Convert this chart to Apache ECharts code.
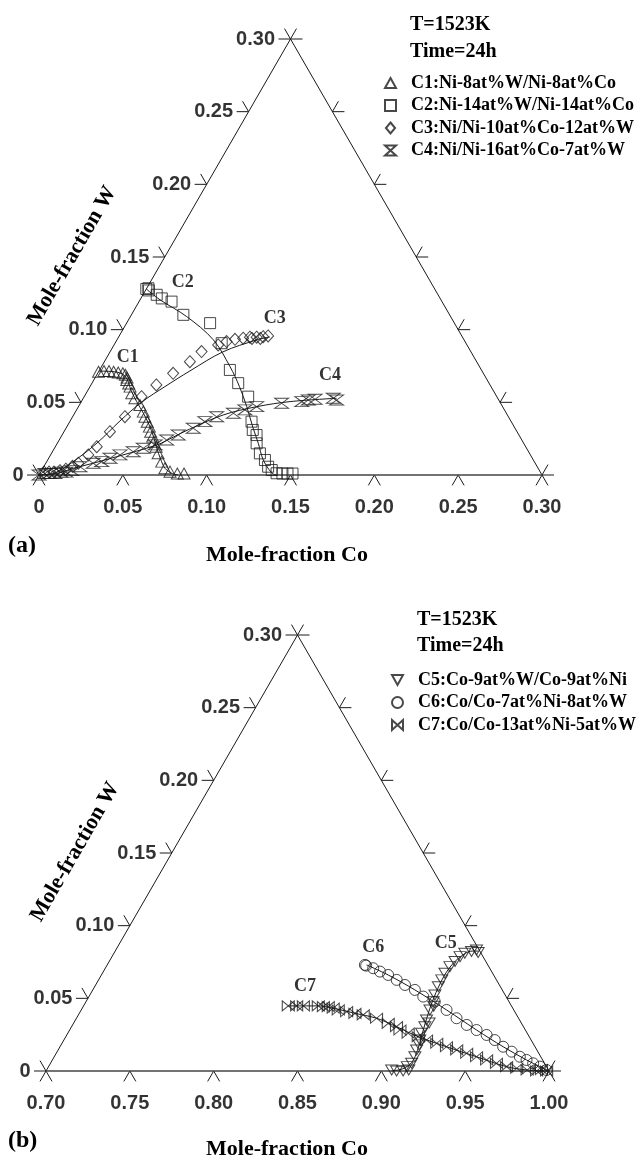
<!DOCTYPE html>
<html><head><meta charset="utf-8">
<script src="https://cdn.jsdelivr.net/npm/echarts@6/dist/echarts.min.js"></script>
<style>html,body{margin:0;padding:0;background:#fff}#c{width:641px;height:1157px}</style>
</head><body><div id="c"></div>
<script>
// ---- tick values / labels ----
const wTicks = [0, 0.05, 0.10, 0.15, 0.20, 0.25, 0.30];
const wTickLabels = ['0', '0.05', '0.10', '0.15', '0.20', '0.25', '0.30'];
const coTicksA = [0, 0.05, 0.10, 0.15, 0.20, 0.25, 0.30];
const coTickLabelsA = ['0', '0.05', '0.10', '0.15', '0.20', '0.25', '0.30'];
const coTicksB = [0.70, 0.75, 0.80, 0.85, 0.90, 0.95, 1.00];
const coTickLabelsB = ['0.70', '0.75', '0.80', '0.85', '0.90', '0.95', '1.00'];

// ---- series names ----
const namesA = ['C1:Ni-8at%W/Ni-8at%Co', 'C2:Ni-14at%W/Ni-14at%Co', 'C3:Ni/Ni-10at%Co-12at%W', 'C4:Ni/Ni-16at%Co-7at%W'];
const namesB = ['C5:Co-9at%W/Co-9at%Ni', 'C6:Co/Co-7at%Ni-8at%W', 'C7:Co/Co-13at%Ni-5at%W'];

// ---- measured compositions [Co, W] ----
const c1 = [[0.000,0.071],[0.003,0.0715],[0.006,0.0715],[0.009,0.071],[0.012,0.0705],[0.015,0.070],[0.017,0.069],[0.019,0.067],
  [0.0196,0.0654],[0.022,0.063],[0.0239,0.0608],[0.0272,0.0563],[0.0308,0.0528],[0.0361,0.0482],[0.0404,0.0436],[0.0431,0.0401],
  [0.0462,0.0367],[0.0492,0.0333],[0.0517,0.0298],[0.0546,0.0264],[0.0571,0.0229],[0.0601,0.0195],[0.0636,0.0149],[0.0686,0.0092],
  [0.0728,0.0046],[0.077,0.0023],[0.082,0.001],[0.086,0.001]];
const c2 = [[0.000,0.128],[0.001,0.1285],[0.002,0.127],[0.0082,0.124],[0.0125,0.1215],[0.0194,0.1193],[0.031,0.1102],[0.0498,0.1045],
  [0.0636,0.0907],[0.0777,0.0723],[0.0872,0.0632],[0.0978,0.0539],[0.1084,0.0367],[0.112,0.031],[0.116,0.0275],[0.1189,0.0218],
  [0.1243,0.0149],[0.1296,0.0103],[0.1338,0.0057],[0.1371,0.0034],[0.1411,0.0012],[0.1447,0.001],[0.1477,0.001],[0.1507,0.001]];
const c3 = [[0.002,0.002],[0.005,0.002],[0.008,0.002],[0.011,0.003],[0.014,0.004],[0.017,0.006],[0.0194,0.0081],[0.0225,0.0138],
  [0.0247,0.0195],[0.0274,0.0298],[0.0312,0.0401],[0.0342,0.0539],[0.039,0.062],[0.045,0.070],[0.051,0.078],[0.0545,0.0849],
  [0.0621,0.0895],[0.066,0.0918],[0.0702,0.0934],[0.0747,0.0941],[0.0784,0.0948],[0.080,0.094],[0.0824,0.0948],[0.085,0.094],
  [0.0861,0.0952],[0.0888,0.0957]];
const c4 = [[0.000,0.000],[0.003,0.001],[0.006,0.001],[0.009,0.001],[0.012,0.002],[0.015,0.002],[0.018,0.003],[0.0216,0.0057],
  [0.0283,0.0081],[0.0328,0.0092],[0.0366,0.0115],[0.0414,0.0138],[0.0482,0.016],[0.053,0.0184],[0.0589,0.0207],[0.0641,0.0241],
  [0.0693,0.0275],[0.0759,0.0322],[0.0806,0.0367],[0.0859,0.0401],[0.0947,0.0425],[0.1004,0.0448],[0.1063,0.047],[0.120,0.0494],
  [0.1315,0.0505],[0.1348,0.0516],[0.1386,0.0521],[0.1491,0.0528],[0.1517,0.0516]];
const c5 = [[0.9058,0.0007],[0.9091,0.000],[0.913,0.000],[0.916,0.0007],[0.914,0.003],[0.9154,0.0053],[0.9151,0.0098],[0.9138,0.0145],
  [0.9135,0.018],[0.9123,0.0213],[0.911,0.026],[0.9107,0.0305],[0.912,0.033],[0.9094,0.0351],[0.908,0.042],[0.909,0.0445],
  [0.9071,0.0477],[0.9058,0.0523],[0.905,0.058],[0.9047,0.0627],[0.9043,0.0673],[0.905,0.0718],[0.9063,0.0753],[0.9076,0.0787],
  [0.9093,0.081],[0.9127,0.0822],[0.9151,0.0833],[0.917,0.0815]];
const c6 = [[0.8537,0.073],[0.8547,0.0725],[0.8598,0.0707],[0.865,0.0684],[0.871,0.0661],[0.8778,0.0627],[0.8845,0.0592],[0.8921,0.0558],
  [0.8994,0.0512],[0.908,0.0477],[0.9179,0.042],[0.9267,0.0363],[0.9351,0.0317],[0.9427,0.0282],[0.9504,0.0248],[0.957,0.0213],
  [0.9643,0.0167],[0.9711,0.0133],[0.9777,0.0098],[0.9828,0.0076],[0.9879,0.0053],[0.9931,0.003],[0.9982,0.0007]];
const c7 = [[0.8221,0.0448],[0.8271,0.0448],[0.8311,0.0448],[0.840,0.0448],[0.8433,0.0443],[0.8462,0.0443],[0.8497,0.0432],[0.8533,0.042],
  [0.8589,0.0408],[0.8644,0.0397],[0.8699,0.0386],[0.879,0.0363],[0.8877,0.0328],[0.8938,0.0305],[0.897,0.0282],[0.903,0.026],
  [0.9102,0.0236],[0.9163,0.0213],[0.9235,0.0191],[0.9305,0.0167],[0.9377,0.0145],[0.9448,0.0122],[0.9519,0.0098],[0.959,0.0076],
  [0.966,0.0053],[0.9732,0.003],[0.9798,0.0019],[0.9866,0.0007],[0.9926,0.000],[0.995,0.001],[0.9986,0.000]];

// ---- fitted curves [Co, W] ----
const f1 = [[0,0.0715],[0.008,0.0712],[0.015,0.0695],[0.02,0.0655],[0.026,0.058],[0.033,0.0505],[0.041,0.0425],[0.048,0.035],
  [0.055,0.0265],[0.061,0.0185],[0.067,0.011],[0.073,0.0045],[0.079,0.001],[0.083,0]];
const f2 = [[0,0.128],[0.012,0.1205],[0.0336,0.109],[0.0575,0.093],[0.0766,0.0746],[0.089,0.061],[0.1004,0.047],[0.111,0.033],
  [0.1199,0.0218],[0.128,0.011],[0.135,0.004],[0.1397,0.0005],[0.142,0]];
const f3 = [[0,0],[0.0088,0.0014],[0.0147,0.0076],[0.0236,0.022],[0.0297,0.0372],[0.0363,0.0503],[0.0451,0.0613],[0.0542,0.0716],
  [0.0673,0.0847],[0.0835,0.093],[0.0902,0.095]];
const f4 = [[0,0],[0.01,0.001],[0.0182,0.0046],[0.028,0.008],[0.04,0.0126],[0.06,0.0207],[0.067,0.026],[0.0739,0.0315],
  [0.0892,0.0413],[0.1063,0.047],[0.1245,0.0505],[0.1511,0.0528]];
const f5 = [[0.906,0],[0.912,0.0015],[0.9152,0.006],[0.9145,0.014],[0.912,0.024],[0.909,0.036],[0.9065,0.048],[0.905,0.06],
  [0.905,0.07],[0.9075,0.078],[0.913,0.0825],[0.9165,0.0825]];
const f6 = [[0.8547,0.073],[0.871,0.0661],[0.8921,0.0558],[0.9179,0.042],[0.9427,0.0282],[0.9643,0.0167],[0.9828,0.0076],[0.9931,0.003],[1.0,0]];
const f7 = [[0.8221,0.0448],[0.84,0.0448],[0.8497,0.0432],[0.8644,0.0397],[0.879,0.0363],[0.8938,0.0305],[0.9102,0.0236],
  [0.9305,0.0167],[0.9519,0.0098],[0.9732,0.003],[0.9866,0.0007],[1.0,0]];

// ---- curve labels [Co, W, text] ----
const annA = [[0.0124,0.081,'C1'],[0.0195,0.1324,'C2'],[0.0867,0.1079,'C3'],[0.1391,0.0689,'C4']];
const annB = [[0.8946,0.0875,'C5'],[0.8527,0.0849,'C6'],[0.8254,0.0581,'C7']];

// ---------------------------------------------------------------
const S3 = Math.sqrt(3) / 2;
const xy = p => [p[0] + p[1] / 2, p[1] * S3];
const TL = 12 / 1677;   // tick length in data units
const SPAN = 0.30;
const INK = '#1a1a1a';
const serif = 'Liberation Serif';
const sans = 'Liberation Sans';

const symbols = {
  tri: 'path://M5,0L10,9L0,9Z',
  sq: 'path://M0,0L10,0L10,10L0,10Z',
  dia: 'path://M5,0L10,6L5,12L0,6Z',
  circ: 'path://M0,5A5,5,0,1,1,10,5A5,5,0,1,1,0,5Z',
  hour: 'path://M0,0L10,0L0,9L10,9Z',
  down: 'path://M0,0L10,0L5,9Z',
  bow: 'path://M0,0L10,9L10,0L0,9Z'
};

function frameSeries(gi, co0, coTicks, coLabels) {
  const L = xy([co0, 0]), R = xy([co0 + SPAN, 0]), T = xy([co0, SPAN]);
  const segs = [];
  segs.push([L, T]); segs.push([T, R]);
  wTicks.forEach(w => {
    const P = xy([co0, w]);
    segs.push([P, [P[0] - TL, P[1]]]);
    segs.push([P, [P[0] - TL / 2, P[1] + TL * S3]]);
    const Q = xy([co0 + SPAN - w, w]);
    segs.push([Q, [Q[0] + TL, Q[1]]]);
    segs.push([Q, [Q[0] + TL / 2, Q[1] + TL * S3]]);
  });
  coTicks.forEach(c => {
    const B = xy([c, 0]);
    segs.push([B, [B[0] - TL / 2, B[1] - TL * S3]]);
    segs.push([B, [B[0] + TL / 2, B[1] - TL * S3]]);
  });
  return [
    { type: 'lines', coordinateSystem: 'cartesian2d', xAxisIndex: gi, yAxisIndex: gi, polyline: true, clip: false, silent: true,
      data: segs.map(s => ({ coords: s })), lineStyle: { color: INK, width: 1, opacity: 1 }, z: 1 },
    { type: 'lines', coordinateSystem: 'cartesian2d', xAxisIndex: gi, yAxisIndex: gi, polyline: true, clip: false, silent: true,
      data: [{ coords: [L, R] }], lineStyle: { color: '#444', width: 1.6, opacity: 1 }, z: 1 },
    { type: 'scatter', xAxisIndex: gi, yAxisIndex: gi, clip: false, silent: true, symbolSize: 1,
      itemStyle: { color: 'rgba(0,0,0,0)' },
      data: wTicks.map((w, i) => { const P = xy([co0, w]); return { value: [P[0] - TL, P[1]], name: wTickLabels[i] }; }),
      label: { show: true, position: 'left', distance: 3, formatter: '{b}', fontFamily: sans, fontWeight: 'bold', fontSize: 20, color: '#000' } },
    { type: 'scatter', xAxisIndex: gi, yAxisIndex: gi, clip: false, silent: true, symbolSize: 1,
      itemStyle: { color: 'rgba(0,0,0,0)' },
      data: coTicks.map((c, i) => ({ value: xy([c, 0]), name: coLabels[i] })),
      label: { show: true, position: 'inside', offset: [0, 32], formatter: '{b}', fontFamily: sans, fontWeight: 'bold', fontSize: 20, color: '#000' } }
  ];
}

function dataSeries(gi, name, pts, fit, sym, size) {
  return [
    { type: 'line', name: 'fit-' + name, xAxisIndex: gi, yAxisIndex: gi, data: fit.map(xy), smooth: 0.35, showSymbol: false,
      symbol: 'none', clip: false, silent: true, lineStyle: { color: INK, width: 1 }, z: 2 },
    { type: 'scatter', name: name, xAxisIndex: gi, yAxisIndex: gi, data: pts.map(xy), symbol: sym, symbolSize: size, clip: false,
      itemStyle: { color: 'rgba(255,255,255,0)', borderColor: INK, borderWidth: 1 }, z: 3 }
  ];
}

function annSeries(gi, ann) {
  return { type: 'scatter', xAxisIndex: gi, yAxisIndex: gi, clip: false, silent: true, symbolSize: 1,
    itemStyle: { color: 'rgba(0,0,0,0)' },
    data: ann.map(a => ({ value: xy([a[0], a[1]]), name: a[2] })),
    label: { show: true, position: 'inside', formatter: '{b}', fontFamily: serif, fontWeight: 'bold', fontSize: 18, color: '#000' } };
}

const series = [].concat(
  frameSeries(0, 0, coTicksA, coTickLabelsA),
  frameSeries(1, 0.70, coTicksB, coTickLabelsB),
  dataSeries(0, namesA[0], c1, f1, symbols.tri, [12, 11]),
  dataSeries(0, namesA[1], c2, f2, symbols.sq, 11),
  dataSeries(0, namesA[2], c3, f3, symbols.dia, [11, 12]),
  dataSeries(0, namesA[3], c4, f4, symbols.hour, [14, 10]),
  dataSeries(1, namesB[0], c5, f5, symbols.down, [12, 10]),
  dataSeries(1, namesB[1], c6, f6, symbols.circ, 11),
  dataSeries(1, namesB[2], c7, f7, symbols.bow, [12, 10]),
  [annSeries(0, annA), annSeries(1, annB)]
);

function txt(x, y, text, size, extra) {
  return Object.assign({ type: 'text', x: x, y: y, silent: true,
    style: Object.assign({ text: text, fontFamily: serif, fontWeight: 'bold', fontSize: size, fill: '#000', align: 'left', verticalAlign: 'middle' }, extra || {}) });
}

const legendText = { fontFamily: serif, fontWeight: 'bold', fontSize: 18, color: '#000', lineHeight: 18, padding: [0, 0, 0, 10] };

const option = {
  animation: false,
  backgroundColor: '#fff',
  grid: [
    { left: 39, top: 39, width: 503, height: 436 },
    { left: 46, top: 635, width: 503, height: 436 }
  ],
  xAxis: [
    { type: 'value', gridIndex: 0, min: 0, max: 0.30, show: false },
    { type: 'value', gridIndex: 1, min: 0.70, max: 1.00, show: false }
  ],
  yAxis: [
    { type: 'value', gridIndex: 0, min: 0, max: SPAN * S3, show: false },
    { type: 'value', gridIndex: 1, min: 0, max: SPAN * S3, show: false }
  ],
  legend: [
    { data: namesA, orient: 'vertical', left: 384, top: 74, itemWidth: 11, itemHeight: 11, itemGap: 4.5, symbolKeepAspect: true,
      selectedMode: false, textStyle: legendText, padding: 0 },
    { data: namesB, orient: 'vertical', left: 391, top: 671, itemWidth: 11, itemHeight: 11, itemGap: 4.5, symbolKeepAspect: true,
      selectedMode: false, textStyle: legendText, padding: 0 }
  ],
  graphic: [
    txt(410, 25, 'T=1523K', 20),
    txt(410, 52, 'Time=24h', 20),
    txt(417, 620, 'T=1523K', 20),
    txt(417, 646, 'Time=24h', 20),
    txt(8, 546, '(a)', 24),
    txt(8, 1141, '(b)', 24),
    txt(287, 555, 'Mole-fraction Co', 22, { align: 'center' }),
    txt(287, 1149, 'Mole-fraction Co', 22, { align: 'center' }),
    Object.assign(txt(72, 256, 'Mole-fraction W', 22, { align: 'center' }), { rotation: Math.PI / 3 }),
    Object.assign(txt(75, 852, 'Mole-fraction W', 22, { align: 'center' }), { rotation: Math.PI / 3 })
  ],
  series: series
};

const chart = echarts.init(document.getElementById('c'), null, { renderer: 'canvas' });
chart.setOption(option);
</script>
</body></html>
